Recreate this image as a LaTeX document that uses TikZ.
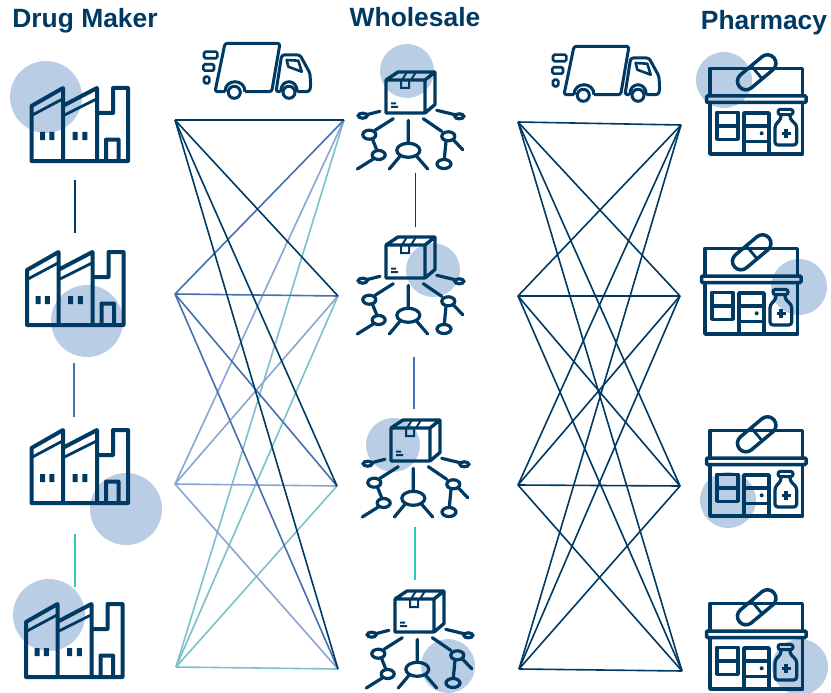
\documentclass[tikz,border=0pt]{standalone}
\usepackage{fontspec}
\setmainfont{Liberation Sans}
\usetikzlibrary{positioning}
\definecolor{navy}{HTML}{003A63}
\definecolor{midblue}{HTML}{4470AE}
\definecolor{paleblue}{HTML}{8AA6D0}
\definecolor{paleteal}{HTML}{7CC1C9}
\definecolor{brightteal}{HTML}{2FC7B8}
\definecolor{spotblue}{HTML}{B9CDE5}
\tikzset{
  head/.style={text=navy,font=\fontsize{26.4}{28}\selectfont\bfseries,anchor=base,inner sep=0pt},
  spot/.style={circle,fill=spotblue,inner sep=0pt,minimum size=#1},
  link/.style={line width=1.6pt,color=#1},
  divider/.style={line width=1.6pt,color=#1},
  factory/.pic={
    \draw[navy,line width=4pt,line join=round,line cap=round]
      (0,0) -- (96.5,0) -- (96.5,-73) -- (81.5,-73) -- (81.5,-48) -- (65.5,-48)
      (0,0) -- (0,-55) -- (31.5,-73) -- (31.5,0)
      (33,-56) -- (65.5,-73) -- (65.5,0)
      (74.5,0) -- (74.5,-21.5) -- (87,-21.5) -- (87,0);
    \draw[navy,line width=2.8pt] (1,-46) -- (31,-62) (33,-46) -- (65,-62);
    \fill[navy] (8.5,-29) rectangle (13.5,-21) (17.8,-29) rectangle (22.8,-21)
      (41.2,-29) rectangle (46.2,-21) (50.8,-29) rectangle (55.8,-21);
  },
  hub/.pic={
    \draw[navy,line width=3.4pt,line join=round]
      (0,-33) rectangle (39,0)
      (0,-33) -- (12,-41) -- (49,-41) -- (49,-8.5) -- (39,0)
      (39,-33) -- (49,-41);
    \draw[navy,line width=2pt]
      (15,-33) -- (15,-25) -- (23,-25) -- (23,-33)
      (16,-33) -- (21,-41) (25,-33) -- (30,-41)
      (5,-9.5) -- (10,-9.5) (5,-6) -- (12,-6);
    \draw[navy,line width=3.2pt,line cap=round]
      (-23.3,2.7) ellipse [x radius=4.5,y radius=2.5]
      (-19.3,1.7) -- (-6,-1.7)
      (73.3,3.3) ellipse [x radius=4.5,y radius=2.5]
      (50.7,-2.7) -- (69,1.7)
      (22.3,7.3) -- (22.3,30)
      (22.3,37.3) ellipse [x radius=11.5,y radius=7]
      (14,43.3) -- (3.3,56) (30.7,43.3) -- (41.7,56)
      (7.3,5.7) -- (-11,17.3)
      (-16.7,21.7) ellipse [x radius=6.5,y radius=4.5]
      (-13.3,26.7) -- (-9.3,36.7)
      (-7.3,42) ellipse [x radius=6.5,y radius=4.5]
      (-12.7,46) -- (-28.7,56)
      (37.3,5.7) -- (55.7,18.3)
      (62.3,23.3) ellipse [x radius=6.5,y radius=4.5]
      (67.5,27) -- (76.7,36.7)
      (60,28.3) -- (58.3,46)
      (58,51) ellipse [x radius=7,y radius=4.5];
  },
  shop/.pic={
    \draw[navy,line width=3.5pt,line join=round]
      (0,-58) -- (0,-85.7) -- (92.7,-85.7) -- (92.7,-58)
      (0,-51) -- (0,0) -- (92.7,0) -- (92.7,-51)
      (7,-41.7) rectangle (28,-14.7) (7,-28) -- (28,-28)
      (34,0) -- (34,-41) -- (59,-41) -- (59,0)
      (34,-28) -- (59,-28) (34,-12.3) -- (59,-12.3);
    \draw[navy,line width=3.5pt,rounded corners=1pt] (-3.5,-58) rectangle (96,-51.5);
    \fill[navy] (51.7,-20.7) circle (2);
    \draw[navy,line width=3.2pt,rounded corners=3pt]
      (71,-39) -- (71,-35) -- (65,-29) -- (65,-9) -- (86.7,-9) -- (86.7,-29) -- (80,-35) -- (80,-39);
    \draw[navy,line width=3pt,rounded corners=2.5pt] (68,-44.7) rectangle (83,-39.3);
    \draw[navy,line width=3.2pt] (76,-25.2) -- (76,-16.2) (71.5,-20.7) -- (80.5,-20.7);
    \draw[navy,line width=3.5pt,rounded corners=8.4pt,rotate around={40:(46.7,-81.7)}]
      (24.2,-90.2) rectangle (69.2,-73.2);
    \draw[navy,line width=2.8pt,rotate around={40:(46.7,-81.7)}] (46.7,-90.2) -- (46.7,-73.2);
  },
  truck/.pic={
    \draw[navy,line width=3pt,line join=round,rounded corners=2.5pt]
      (35,61.7) -- (25,61.7) -- (35,13.3) -- (90,13.3) -- (81.7,61.7) -- (55,61.7);
    \draw[navy,line width=3pt] (55,61.7) .. controls (55,48.4) and (35,48.4) .. (35,61.7);
    \draw[navy,line width=3pt,line join=round,rounded corners=2.5pt]
      (90.7,61.7) -- (86,61.7) -- (91.7,25) -- (110,25) -- (120,43.3) -- (120.7,56.7) -- (119.3,61.7) -- (107.3,61.7);
    \draw[navy,line width=3pt] (107.3,61.7) .. controls (107.3,48.4) and (90.7,48.4) .. (90.7,61.7);
    \draw[navy,line width=3pt] (44.3,62.3) circle (6) (99,62.3) circle (6);
    \draw[navy,line width=2.6pt,line join=round]
      (96.7,30) -- (108.3,30.7) -- (111.7,41.7) -- (98.3,36.7) -- cycle;
    \draw[navy,line width=2.6pt,rounded corners=1.5pt]
      (14,21.7) rectangle (27.3,28.3) (13.3,34.3) rectangle (24,40.7) (14,46.7) rectangle (19.3,53.3);
  }
}
\begin{document}
\begin{tikzpicture}[x=1pt,y=-1pt]
  \useasboundingbox (0,0) rectangle (831,693);
  % headings
  \node[head] (drugmaker) at (85,27.7) {Drug Maker};
  \node[head] (wholesale) at (415,26.7) {Wholesale};
  \node[head] (pharmacy) at (764,30) {Pharmacy};
  % spots behind the icons
  \node[spot=72pt] (spot_f1) at (46,97) {};
  \node[spot=72pt] (spot_f2) at (87,321) {};
  \node[spot=72pt] (spot_f3) at (126,509) {};
  \node[spot=72pt] (spot_f4) at (49,615) {};
  \node[spot=54pt] (spot_w1) at (407,71) {};
  \node[spot=54pt] (spot_w2) at (433,270) {};
  \node[spot=54pt] (spot_w3) at (393,445) {};
  \node[spot=54pt] (spot_w4) at (448,666) {};
  \node[spot=56pt] (spot_p1) at (724,80) {};
  \node[spot=56pt] (spot_p2) at (799,287) {};
  \node[spot=56pt] (spot_p3) at (728,500) {};
  \node[spot=56pt] (spot_p4) at (800,667) {};
  % icons
  \pic (f1) at (31.5,161) {factory};
  \pic (f2) at (27,325) {factory};
  \pic (f3) at (31.5,503) {factory};
  \pic (f4) at (26,677) {factory};
  \pic (w1) at (386,113) {hub};
  \pic (w2) at (386,278) {hub};
  \pic (w3) at (391,461) {hub};
  \pic (w4) at (395,632) {hub};
  \pic (p1) at (710,154) {shop};
  \pic (p2) at (705,334) {shop};
  \pic (p3) at (710,516) {shop};
  \pic (p4) at (710,689) {shop};
  \pic (t1) at (190,30) {truck};
  \pic (t2) at (539,33) {truck};
  % dividers
  \coordinate (fa1) at (75,180);   \coordinate (fb1) at (75,233);
  \coordinate (fa2) at (74,363);   \coordinate (fb2) at (74,417);
  \coordinate (fa3) at (75,534);   \coordinate (fb3) at (75,587);
  \coordinate (wa1) at (415.5,173); \coordinate (wb1) at (415.5,227);
  \coordinate (wa2) at (414,357);  \coordinate (wb2) at (414,409);
  \coordinate (wa3) at (415,527);  \coordinate (wb3) at (415,580);
  \draw[divider=navy] (fa1) -- (fb1);
  \draw[divider=midblue] (fa2) -- (fb2);
  \draw[divider=brightteal] (fa3) -- (fb3);
  \draw[divider=navy] (wa1) -- (wb1);
  \draw[divider=midblue] (wa2) -- (wb2);
  \draw[divider=brightteal] (wa3) -- (wb3);
  % first network
  \coordinate (m1) at (175,120);
  \coordinate (m2) at (175,294);
  \coordinate (m3) at (175,484);
  \coordinate (m4) at (176,667);
  \coordinate (d1) at (344,120);
  \coordinate (d2) at (338,296);
  \coordinate (d3) at (337,486);
  \coordinate (d4) at (338,669);
  \draw[link=paleteal] (m4) edge (d1) edge (d2) edge (d3) edge (d4);
  \draw[link=paleblue] (m3) edge (d1) edge (d2) edge (d3) edge (d4);
  \draw[link=midblue] (m2) edge (d1) edge (d2) edge (d3) edge (d4);
  \draw[link=navy] (m1) edge (d1) edge (d2) edge (d3) edge (d4);
  % second network
  \coordinate (s1) at (518,122);
  \coordinate (s2) at (518,296);
  \coordinate (s3) at (518,485);
  \coordinate (s4) at (519,669);
  \coordinate (r1) at (681,125);
  \coordinate (r2) at (680,296);
  \coordinate (r3) at (680,486);
  \coordinate (r4) at (682,671);
  \draw[link=navy] (s1) edge (r1) edge (r2) edge (r3) edge (r4);
  \draw[link=navy] (s2) edge (r1) edge (r2) edge (r3) edge (r4);
  \draw[link=navy] (s3) edge (r1) edge (r2) edge (r3) edge (r4);
  \draw[link=navy] (s4) edge (r1) edge (r2) edge (r3) edge (r4);
\end{tikzpicture}
\end{document}
